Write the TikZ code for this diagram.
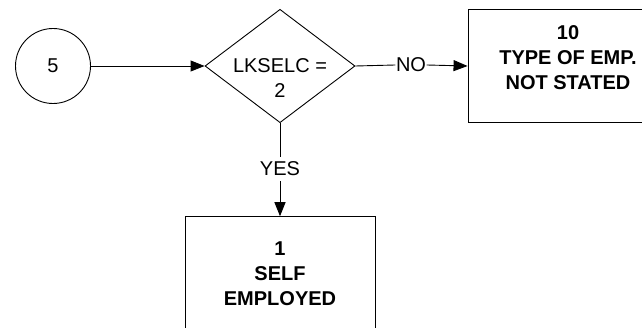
\documentclass[tikz,border=0pt]{standalone}
\usepackage{fontspec}
\setmainfont{Liberation Sans}
\usetikzlibrary{shapes.geometric,arrows.meta}
\begin{document}
\begin{tikzpicture}[x=1pt,y=-1pt,
  every node/.style={font=\fontsize{20}{25}\selectfont},
  line/.style={draw=black,line width=0.9pt},
  arr/.style={line,-{Triangle[length=14pt,width=11pt]}},
  boxnode/.style={draw=black,line width=0.9pt,rectangle,inner sep=0pt},
  lbl/.style={fill=white,inner xsep=0.5pt,inner ysep=5pt},
  btext/.style={align=center,inner sep=0pt,font=\fontsize{20}{25}\selectfont\bfseries}]
\useasboundingbox (0,0) rectangle (642,328);
\node[circle,draw,line width=0.9pt,minimum size=75pt,inner sep=0pt] (c) at (53,66) {5};
\node[diamond,draw,line width=0.9pt,minimum width=150pt,minimum height=113.4pt,inner sep=0pt] (d) at (280,66) {};
\node[align=center,inner sep=0pt] (dt) at (280,78.3) {LKSELC =\\2};
\node[boxnode,minimum width=200pt,minimum height=113.4pt] (no) at (568,66) {};
\node[btext] (not) at (568,57.9) {10\\TYPE OF EMP.\\NOT STATED};
\node[boxnode,minimum width=190pt,minimum height=113.4pt,align=center,
      font=\fontsize{20}{25}\selectfont\bfseries] (yes) at (280,273.4) {1\\SELF\\EMPLOYED};
\node[lbl] (nol) at (411,65) {NO};
\node[lbl] (yesl) at (280,169) {YES};
\draw[arr] (c.east) -- (d.west);
\draw[line] (d.east) -- (nol.west);
\draw[arr] (nol.east) -- (no.west);
\draw[line] (d.south) -- (yesl.north);
\draw[arr] (yesl.south) -- (yes.north);
\end{tikzpicture}
\end{document}
